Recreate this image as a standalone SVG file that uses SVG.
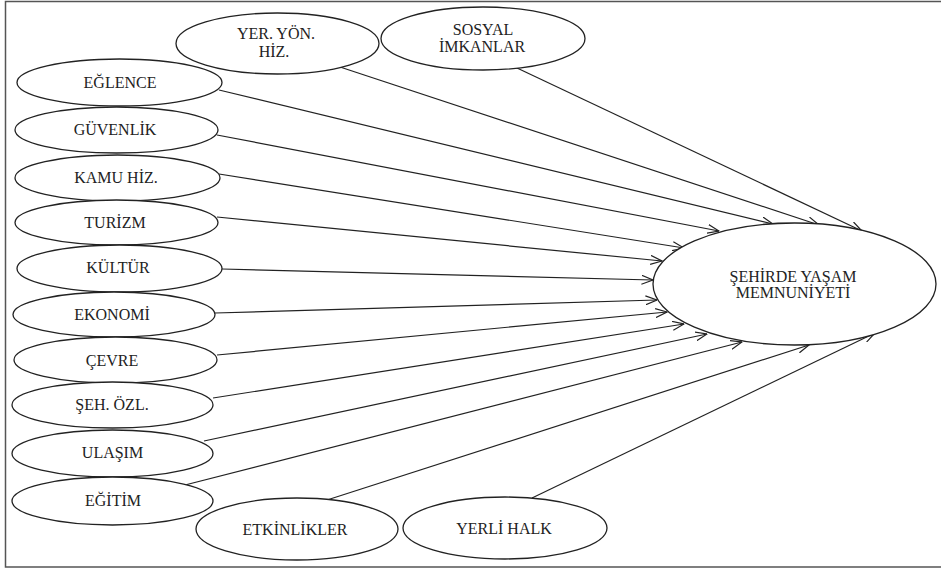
<svg xmlns="http://www.w3.org/2000/svg" width="941" height="572" viewBox="0 0 941 572">
<style>
.n ellipse{fill:#fff;stroke:#222;stroke-width:1.3}
.n text{font-family:'Liberation Serif','Times New Roman',serif;font-size:16px;fill:#222;text-anchor:middle}
.c line{stroke:#222;stroke-width:1.2;marker-end:url(#a)}
</style>
<defs>
<marker id="a" markerUnits="userSpaceOnUse" viewBox="0 0 12 10" refX="11.5" refY="5" markerWidth="12" markerHeight="10" orient="auto">
<path d="M0,0.5 L11.5,5 L0,9.5" fill="none" stroke="#222" stroke-width="1.2"/>
</marker>
</defs>
<rect width="941" height="572" fill="#fff"/>
<path d="M941,1.5 H5.5 V567 H941" fill="none" stroke="#555" stroke-width="1.5"/>
<g class="c" id="connectors">
<line x1="517" y1="68" x2="862" y2="231"/>
<line x1="340" y1="67" x2="819" y2="225"/>
<line x1="219" y1="90" x2="773" y2="224"/>
<line x1="217" y1="135" x2="719" y2="231"/>
<line x1="219" y1="174" x2="684" y2="248"/>
<line x1="217" y1="217" x2="662" y2="261"/>
<line x1="222" y1="269" x2="653" y2="280"/>
<line x1="215" y1="313" x2="657" y2="300"/>
<line x1="217" y1="355" x2="667" y2="312"/>
<line x1="213" y1="398" x2="684" y2="324"/>
<line x1="204" y1="441" x2="707" y2="334"/>
<line x1="185" y1="485" x2="742" y2="342"/>
<line x1="327" y1="500" x2="809" y2="345"/>
<line x1="532" y1="498" x2="875" y2="333"/>
</g>
<g class="n" id="yer"><ellipse cx="277.5" cy="43.5" rx="101.5" ry="30.5"/><text x="276" y="39">YER. YÖN.</text><text x="274" y="57">HİZ.</text></g>
<g class="n" id="sosyal"><ellipse cx="483" cy="38.5" rx="102" ry="31.5"/><text x="483" y="35">SOSYAL</text><text x="482" y="52">İMKANLAR</text></g>
<g class="n" id="eglence"><ellipse cx="119.5" cy="82.5" rx="102.5" ry="23.5"/><text x="120" y="88">EĞLENCE</text></g>
<g class="n" id="guvenlik"><ellipse cx="116.5" cy="130" rx="101.5" ry="23"/><text x="115" y="135">GÜVENLİK</text></g>
<g class="n" id="kamu"><ellipse cx="117.5" cy="178" rx="102.5" ry="23"/><text x="116" y="183">KAMU HİZ.</text></g>
<g class="n" id="turizm"><ellipse cx="116.5" cy="222.5" rx="101.5" ry="22.5"/><text x="115" y="228">TURİZM</text></g>
<g class="n" id="kultur"><ellipse cx="119.5" cy="268.5" rx="102.5" ry="23.5"/><text x="118" y="273">KÜLTÜR</text></g>
<g class="n" id="ekonomi"><ellipse cx="114" cy="314.5" rx="101" ry="22.5"/><text x="112" y="320">EKONOMİ</text></g>
<g class="n" id="cevre"><ellipse cx="115.5" cy="360" rx="101.5" ry="23"/><text x="112" y="366">ÇEVRE</text></g>
<g class="n" id="sehozl"><ellipse cx="112.5" cy="405" rx="100.5" ry="23"/><text x="112" y="410">ŞEH. ÖZL.</text></g>
<g class="n" id="ulasim"><ellipse cx="112.5" cy="453.5" rx="100.5" ry="23.5"/><text x="112.5" y="458">ULAŞIM</text></g>
<g class="n" id="egitim"><ellipse cx="112.5" cy="501" rx="100.5" ry="24"/><text x="113" y="506">EĞİTİM</text></g>
<g class="n" id="etkinlikler"><ellipse cx="297" cy="529" rx="101" ry="31"/><text x="295" y="535">ETKİNLİKLER</text></g>
<g class="n" id="yerli"><ellipse cx="505" cy="528" rx="102" ry="31"/><text x="504" y="534">YERLİ HALK</text></g>
<g class="n" id="memnuniyet"><ellipse cx="794.5" cy="284" rx="141.5" ry="61"/><text x="793" y="282">ŞEHİRDE YAŞAM</text><text x="793" y="298">MEMNUNİYETİ</text></g>
</svg>
